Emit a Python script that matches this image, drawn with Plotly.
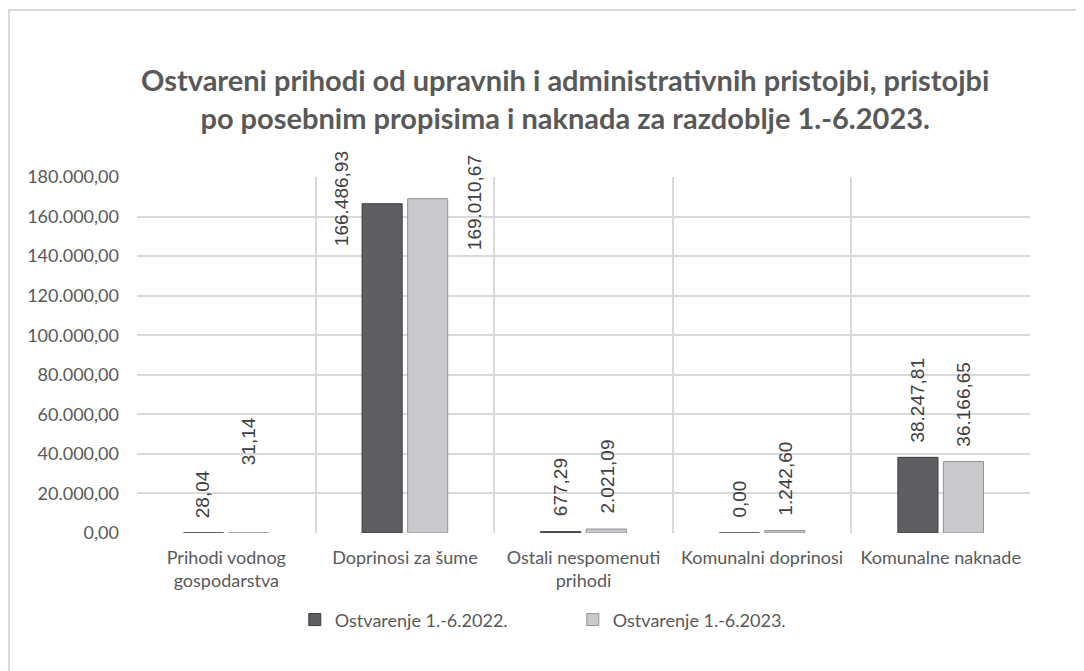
import plotly.graph_objects as go

# ---- data ----
categories = ["Prihodi vodnog<br>gospodarstva", "Doprinosi za šume",
              "Ostali nespomenuti<br>prihodi", "Komunalni doprinosi", "Komunalne naknade"]
series_names = ["Ostvarenje 1.-6.2022.", "Ostvarenje 1.-6.2023."]
values_2022 = [28.04, 166486.93, 677.29, 0.00, 38247.81]
values_2023 = [31.14, 169010.67, 2021.09, 1242.60, 36166.65]
label_2022 = ["28,04", "166.486,93", "677,29", "0,00", "38.247,81"]
label_2023 = ["31,14", "169.010,67", "2.021,09", "1.242,60", "36.166,65"]
y_ticks = [0, 20000, 40000, 60000, 80000, 100000, 120000, 140000, 160000, 180000]
y_ticktext = ["0,00", "20.000,00", "40.000,00", "60.000,00", "80.000,00", "100.000,00",
              "120.000,00", "140.000,00", "160.000,00", "180.000,00"]

# label nudges (pixels) to follow the reference placement
nudge_2022 = [(0, 0), (-41, -57), (0, 0), (0, 0), (0, 0)]
nudge_2023 = [(0, 53), (46, -66), (0, 0), (0, 0), (0, 0)]

GRAY = "#595959"
FONT = "Lato"

# plot area in figure pixels
L, T, R, B = 129, 169, 1022, 525
W, H = 1084, 671
PW, PH = R - L, B - T

fig = go.Figure()
fig.add_trace(go.Bar(x=categories, y=values_2022, name=series_names[0],
                     marker=dict(color="#5e5f63", line=dict(color="#3a3b3d", width=1))))
fig.add_trace(go.Bar(x=categories, y=values_2023, name=series_names[1],
                     marker=dict(color="#c8c9cc", line=dict(color="#929396", width=1))))

# invisible helper trace for category-boundary gridlines
fig.add_trace(go.Scatter(x=[-0.5, 4.5], y=[0, 0], xaxis="x2", mode="lines",
                         line=dict(width=0), showlegend=False, hoverinfo="skip"))

annotations = []
for i, cat in enumerate(categories):
    for vals, labs, nud, off in ((values_2022, label_2022, nudge_2022, -23),
                                 (values_2023, label_2023, nudge_2023, 23)):
        annotations.append(dict(
            x=cat, y=vals[i], xref="x", yref="y", text=labs[i], showarrow=False,
            textangle=-90, yanchor="bottom", xanchor="center",
            xshift=off + nud[i][0], yshift=13 + nud[i][1],
            font=dict(family="Liberation Sans", size=19, color="#404040")))

fig.update_layout(
    width=W, height=H,
    paper_bgcolor="white", plot_bgcolor="white",
    margin=dict(l=L, r=W - R, t=T, b=H - B),
    barmode="group", bargap=0.49, bargroupgap=0.12,
    title=dict(text="Ostvareni prihodi od upravnih i administrativnih pristojbi, pristojbi<br>"
                    "po posebnim propisima i naknada za razdoblje 1.-6.2023.",
               x=0.514, xanchor="center", y=0.876, yanchor="middle",
               font=dict(family=FONT, size=29, color=GRAY, weight="bold")),
    font=dict(family=FONT, color=GRAY, size=18),
    xaxis=dict(showgrid=False, showline=False, ticks="", tickfont=dict(size=18, color=GRAY),
               range=[-0.5, 4.5], ticklabelstandoff=12),
    xaxis2=dict(overlaying="x", range=[-0.5, 4.5], tickvals=[-0.5, 0.5, 1.5, 2.5, 3.5, 4.5],
                showticklabels=False, showgrid=True, gridcolor="#d9d9d9", gridwidth=1.5,
                zeroline=False, side="bottom"),
    yaxis=dict(range=[0, 180000], tickvals=y_ticks, ticktext=y_ticktext,
               showgrid=True, gridcolor="#d9d9d9", gridwidth=1.5, zeroline=False,
               showline=False, ticks="", tickfont=dict(size=18, color=GRAY),
               ticklabelstandoff=17),
    legend=dict(orientation="h", x=0.488, xanchor="center", y=-0.244, yanchor="middle",
                font=dict(size=18, color=GRAY), entrywidth=233, itemwidth=30),
    annotations=annotations,
    shapes=[dict(type="rect", xref="paper", yref="paper",
                 x0=(1 - L) / PW, x1=(W + 20 - L) / PW,
                 y0=(B - H - 20) / PH, y1=(B - 2) / PH,
                 line=dict(color="#d9d9d9", width=2), layer="below")],
)

fig.write_html("out.html")
